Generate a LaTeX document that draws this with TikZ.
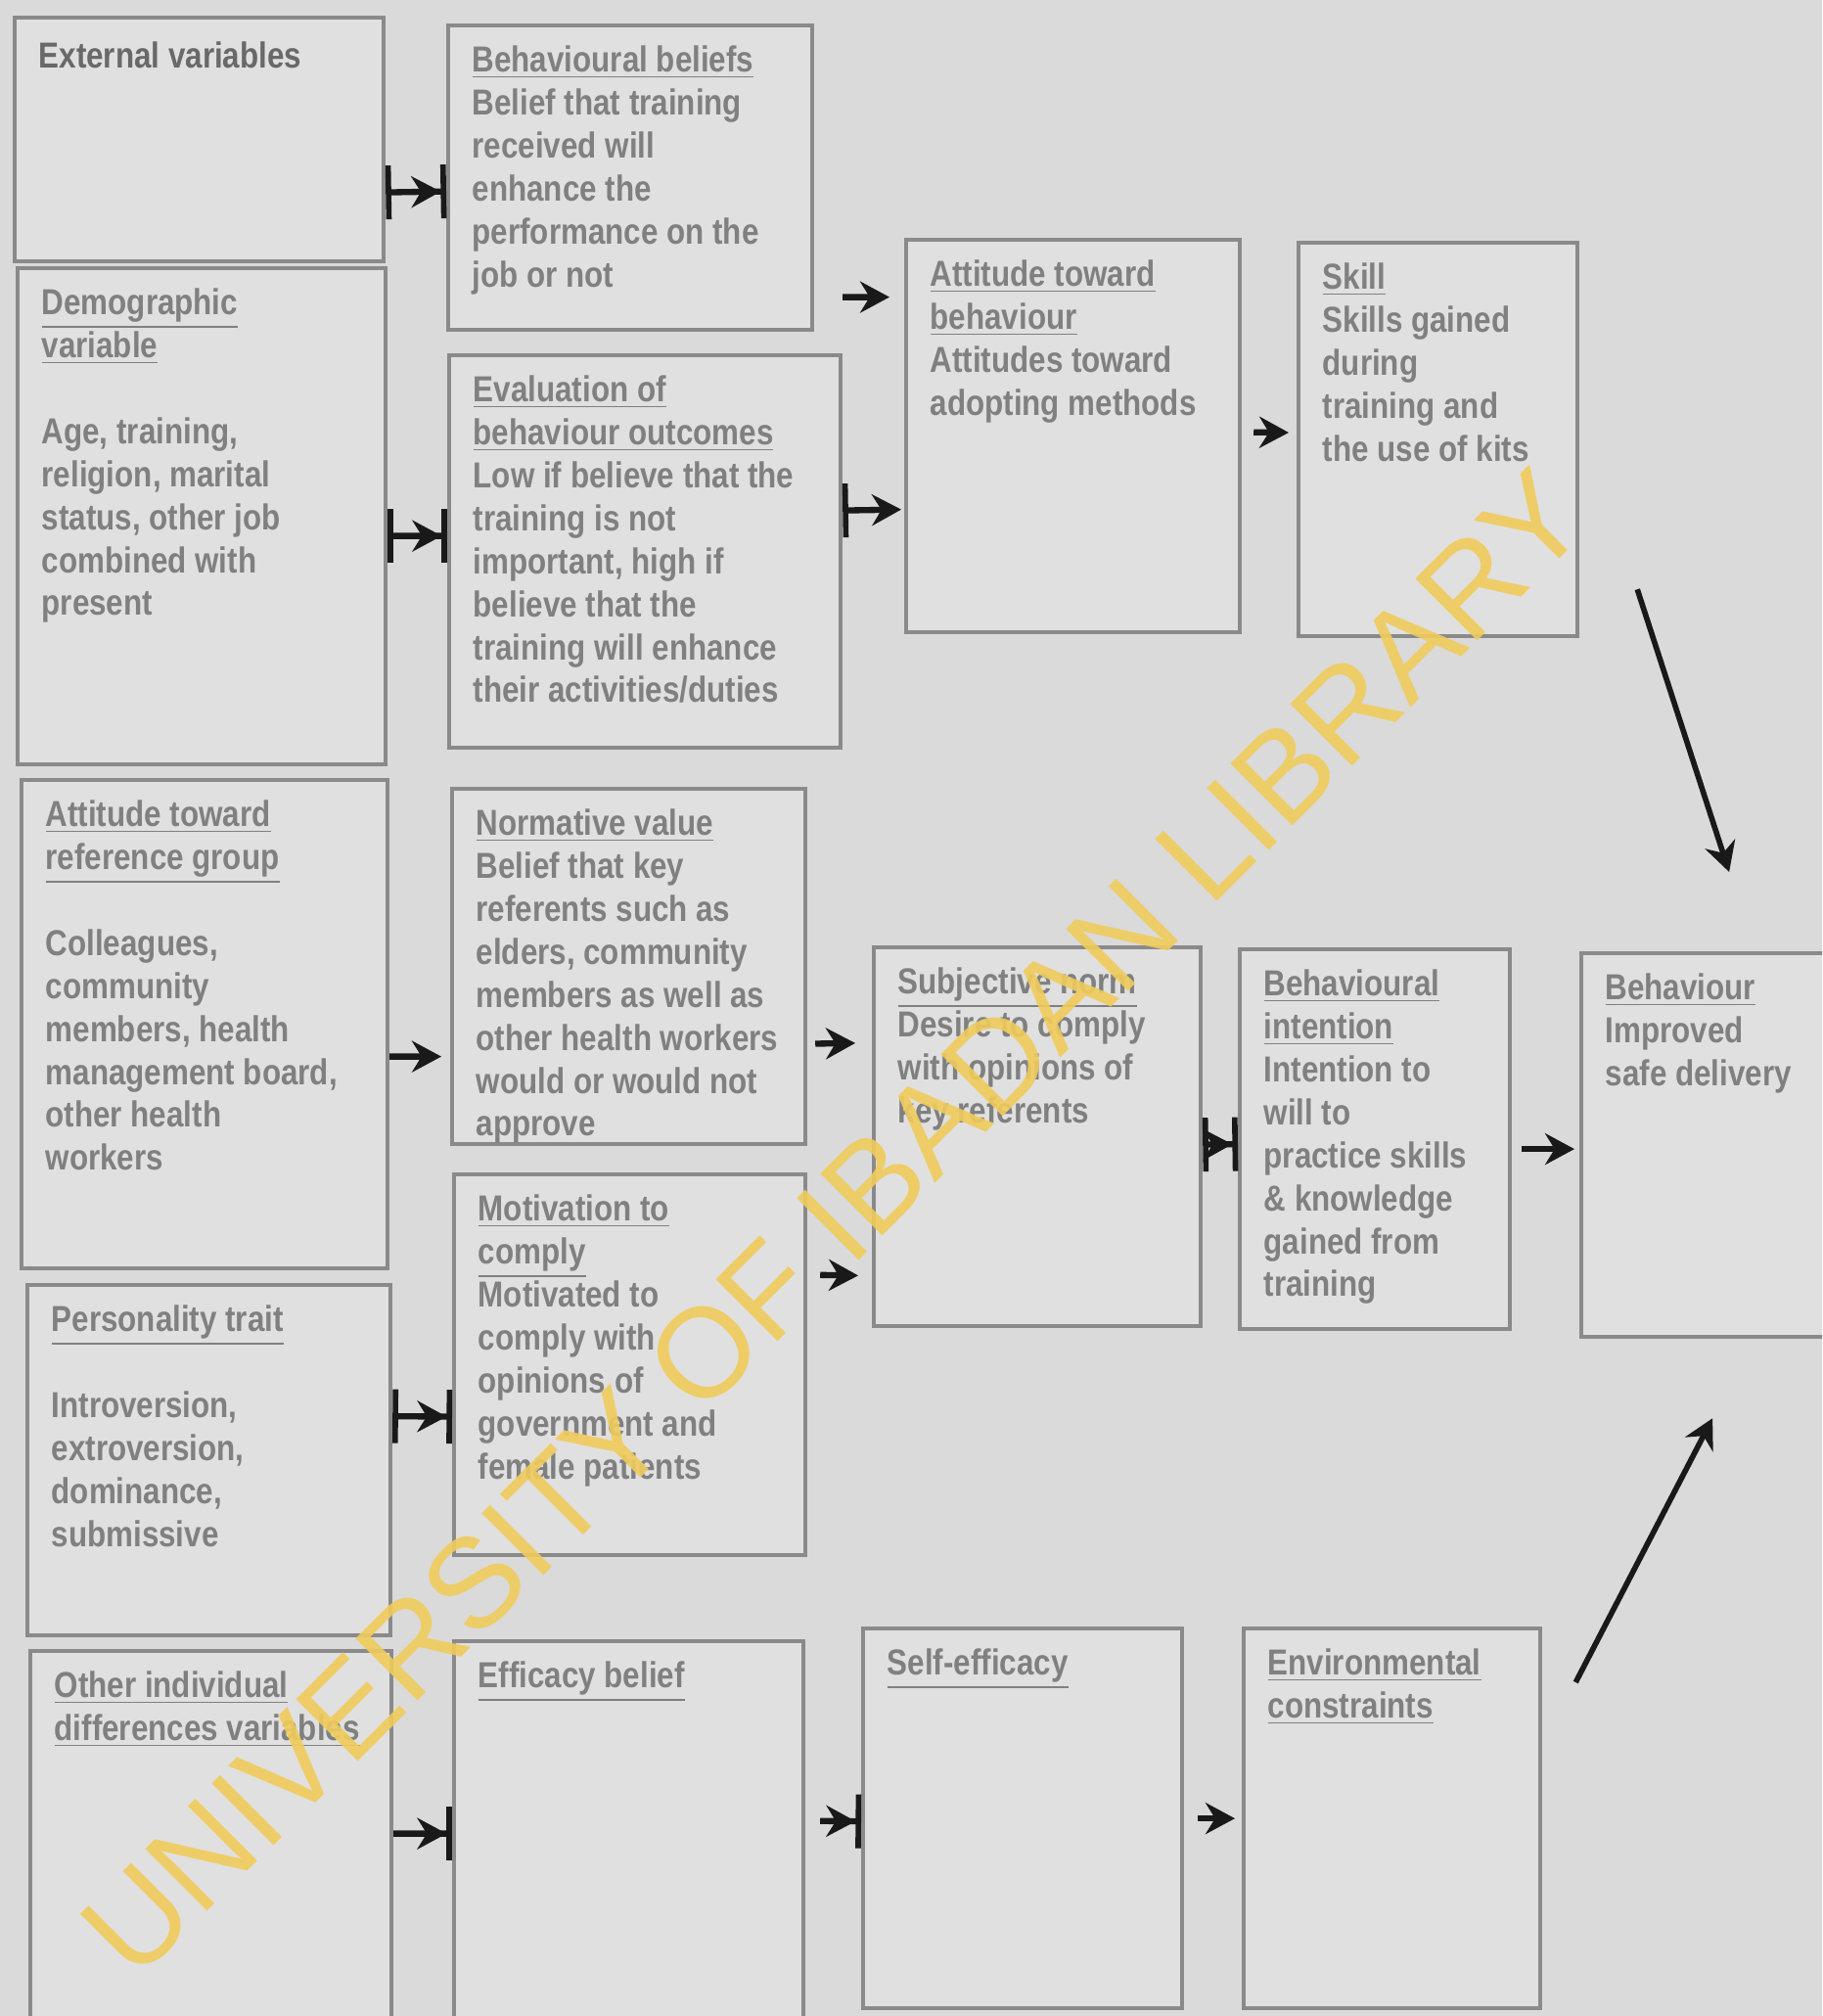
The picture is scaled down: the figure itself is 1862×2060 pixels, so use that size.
\documentclass[tikz,border=0pt]{standalone}
\usepackage{fontspec}
\setmainfont{Liberation Sans}
\newfontfamily\boxfont{Liberation Sans}[FakeStretch=0.85]
\newfontfamily\markfont{Liberation Sans}
\usepackage{xcolor}
\usepackage{tikz}
\usetikzlibrary{arrows.meta,calc,positioning}

\definecolor{bggray}{RGB}{218,218,218}
\definecolor{boxfill}{RGB}{224,224,224}
\definecolor{boxgray}{RGB}{138,138,138}
\definecolor{txtgray}{RGB}{128,128,128}
\definecolor{txtdark}{RGB}{105,105,105}
\definecolor{arrowblack}{RGB}{25,25,25}
\definecolor{wmyellow}{RGB}{240,204,92}

\begin{document}
\begin{tikzpicture}[x=0.1mm, y=-0.1mm]
		\tikzset{varbox/.style={draw=boxgray,rectangle,line width=1.2pt,fill=boxfill,anchor=north west,inner sep=0pt}}
		\tikzset{boxtext/.style={anchor=north west,inner sep=0pt,xshift=2.6mm,yshift=-2.2mm,align=left,text=txtgray,font=\boxfont\bfseries\fontsize{10.5}{12.5}\selectfont}}
		\tikzset{link/.style={draw=arrowblack,line width=1.8pt,-{Stealth[length=3mm,width=3.2mm]}}}
		\tikzset{barlink/.style={draw=arrowblack,line width=1.8pt,{Bar[width=5.5mm,line width=1.6pt]}-{Stealth[length=3mm,width=3.2mm]Bar[width=5.5mm,line width=1.6pt]}}}
		\tikzset{startbar/.style={draw=arrowblack,line width=1.8pt,{Bar[width=5.5mm,line width=1.6pt]}-{Stealth[length=3mm,width=3.2mm]}}}
		\tikzset{endbar/.style={draw=arrowblack,line width=1.8pt,-{Stealth[length=3mm,width=3.2mm]Bar[width=5.5mm,line width=1.6pt]}}}

		\useasboundingbox (0,0) rectangle (1862,2060);
		\clip (0,0) rectangle (1862,2060);
		\fill[bggray] (0,0) rectangle (1862,2060);

		% External variables
		\node[varbox, minimum width=37.7mm, minimum height=24.9mm, label={[boxtext,text=txtdark,yshift=-0.4mm]north west:External variables}] (ext) at (13,16) {};

		\node[varbox, minimum width=37.6mm, minimum height=50.7mm, label={[boxtext]north west:{\underline{Demographic}\\\underline{variable}\\[12.5pt]Age, training,\\religion, marital\\status, other job\\combined with\\present}}] (demo) at (16,272) {};

		\node[varbox, minimum width=37.4mm, minimum height=49.9mm, label={[boxtext]north west:{\underline{Attitude toward}\\\underline{reference group}\\[12.5pt]Colleagues,\\community\\members, health\\management board,\\other health\\workers}}] (attref) at (20,795) {};

		\node[varbox, minimum width=37.1mm, minimum height=35.8mm, label={[boxtext]north west:{\underline{Personality trait}\\[12.5pt]Introversion,\\extroversion,\\dominance,\\submissive}}] (pers) at (26,1311) {};

		\node[varbox, minimum width=36.9mm, minimum height=39.5mm, label={[boxtext]north west:{\underline{Other individual}\\\underline{differences variables}}}] (other) at (29,1685) {};

		% Beliefs
		\node[varbox, minimum width=37.2mm, minimum height=31.1mm, label={[boxtext]north west:{\underline{Behavioural beliefs}\\Belief that training\\received will\\enhance the\\performance on the\\job or not}}] (bb) at (456,24) {};

		\node[varbox, minimum width=40.0mm, minimum height=40.1mm, label={[boxtext]north west:{\underline{Evaluation of}\\\underline{behaviour outcomes}\\Low if believe that the\\training is not\\important, high if\\believe that the\\training will enhance\\their activities/duties}}] (eval) at (457,361) {};

		\node[varbox, minimum width=36.1mm, minimum height=36.3mm, label={[boxtext]north west:{\underline{Normative value}\\Belief that key\\referents such as\\elders, community\\members as well as\\other health workers\\would or would not\\approve}}] (norm) at (460,804) {};

		\node[varbox, minimum width=35.9mm, minimum height=38.9mm, label={[boxtext]north west:{\underline{Motivation to}\\\underline{comply}\\Motivated to\\comply with\\opinions of\\government and\\female patients}}] (motiv) at (462,1198) {};

		\node[varbox, minimum width=35.7mm, minimum height=40.5mm, label={[boxtext]north west:{\underline{Efficacy belief}}}] (effic) at (462,1675) {};

		% Attitude, norm, self-efficacy
		\node[varbox, minimum width=34.1mm, minimum height=40.1mm, label={[boxtext]north west:{\underline{Attitude toward}\\\underline{behaviour}\\Attitudes toward\\adopting methods}}] (atb) at (924,243) {};

		\node[varbox, minimum width=33.4mm, minimum height=38.7mm, label={[boxtext]north west:{\underline{Subjective norm}\\Desire to comply\\with opinions of\\key referents}}] (subj) at (891,966) {};

		\node[varbox, minimum width=32.6mm, minimum height=38.8mm, label={[boxtext]north west:{\underline{Self-efficacy}}}] (selfeff) at (880,1662) {};

		% Skill, intention, constraints
		\node[varbox, minimum width=28.5mm, minimum height=40.2mm, label={[boxtext]north west:{\underline{Skill}\\Skills gained\\during\\training and\\the use of kits}}] (skill) at (1325,246) {};

		\node[varbox, minimum width=27.6mm, minimum height=38.8mm, label={[boxtext]north west:{\underline{Behavioural}\\\underline{intention}\\Intention to\\will to\\practice skills\\\& knowledge\\gained from\\training}}] (bint) at (1265,968) {};

		\node[varbox, minimum width=30.3mm, minimum height=38.8mm, label={[boxtext]north west:{\underline{Environmental}\\\underline{constraints}}}] (env) at (1269,1662) {};

		% Behaviour
		\node[varbox, minimum width=26.6mm, minimum height=39.2mm, label={[boxtext]north west:{\underline{Behaviour}\\Improved\\safe delivery}}] (behav) at (1614,972) {};

		% Arrows
		\draw [barlink] ([yshift=-5.4mm]ext.east) -- ([yshift=-1.4mm]bb.west);
		\draw [barlink] ([yshift=-2mm]demo.east) -- ([yshift=1.6mm]eval.west);
		\draw [link,shorten <=2.9mm,shorten >=1.5mm] ([yshift=-12.2mm]bb.east) -- ([yshift=14.2mm]atb.west);
		\draw [startbar,shorten >=0.3mm] ([yshift=4.2mm]eval.east) -- ([yshift=-7.5mm]atb.west);
		\draw [link,shorten <=1.2mm,shorten >=0.8mm] ([yshift=0.4mm]atb.east) -- ([yshift=0.7mm]skill.west);
		\draw [link,line width=1.6pt] ([shift={(5.9mm,5mm)}]skill.south east) -- ([shift={(1.8mm,8.1mm)}]behav.north);

		\draw [link,shorten >=0.9mm] ([yshift=-3.3mm]attref.east) -- ([yshift=-9.2mm]norm.west);
		\draw [link,shorten <=0.8mm,shorten >=1.7mm] ([yshift=-7.9mm]norm.east) -- ([yshift=9.6mm]subj.west);
		\draw [link,shorten <=1.3mm,shorten >=1.4mm] ([yshift=9.2mm]motiv.east) -- ([yshift=-14.2mm]subj.west);
		\draw [barlink] ([yshift=4.5mm]pers.east) -- ([yshift=-5.3mm]motiv.west);

		\draw [endbar] ([yshift=1.1mm]other.east) -- ([yshift=0.6mm]effic.west);
		\draw [endbar,shorten <=1.5mm] ([yshift=1.9mm]effic.east) -- ([yshift=-0.3mm]selfeff.west);
		\draw [link,shorten <=1.4mm,shorten >=0.7mm] (selfeff.east) -- (env.west);

		\draw [barlink] ([yshift=-0.8mm]subj.east) -- ([yshift=-0.5mm]bint.west);
		\draw [link,shorten <=1mm,shorten >=0.5mm] ([yshift=-1mm]bint.east) -- ([yshift=-0.4mm]behav.west);
		\draw [link,line width=1.6pt] ([shift={(3.4mm,-5.7mm)}]env.north east) -- ([shift={(0.1mm,-8.1mm)}]behav.south);

		% Watermark
		\node[rotate=45, inner sep=0pt, text=wmyellow, opacity=0.9, font=\markfont\fontsize{37}{40}\selectfont] (watermark) at (852,1250) {UNIVERSITY OF IBADAN LIBRARY};

	\end{tikzpicture}
\end{document}
